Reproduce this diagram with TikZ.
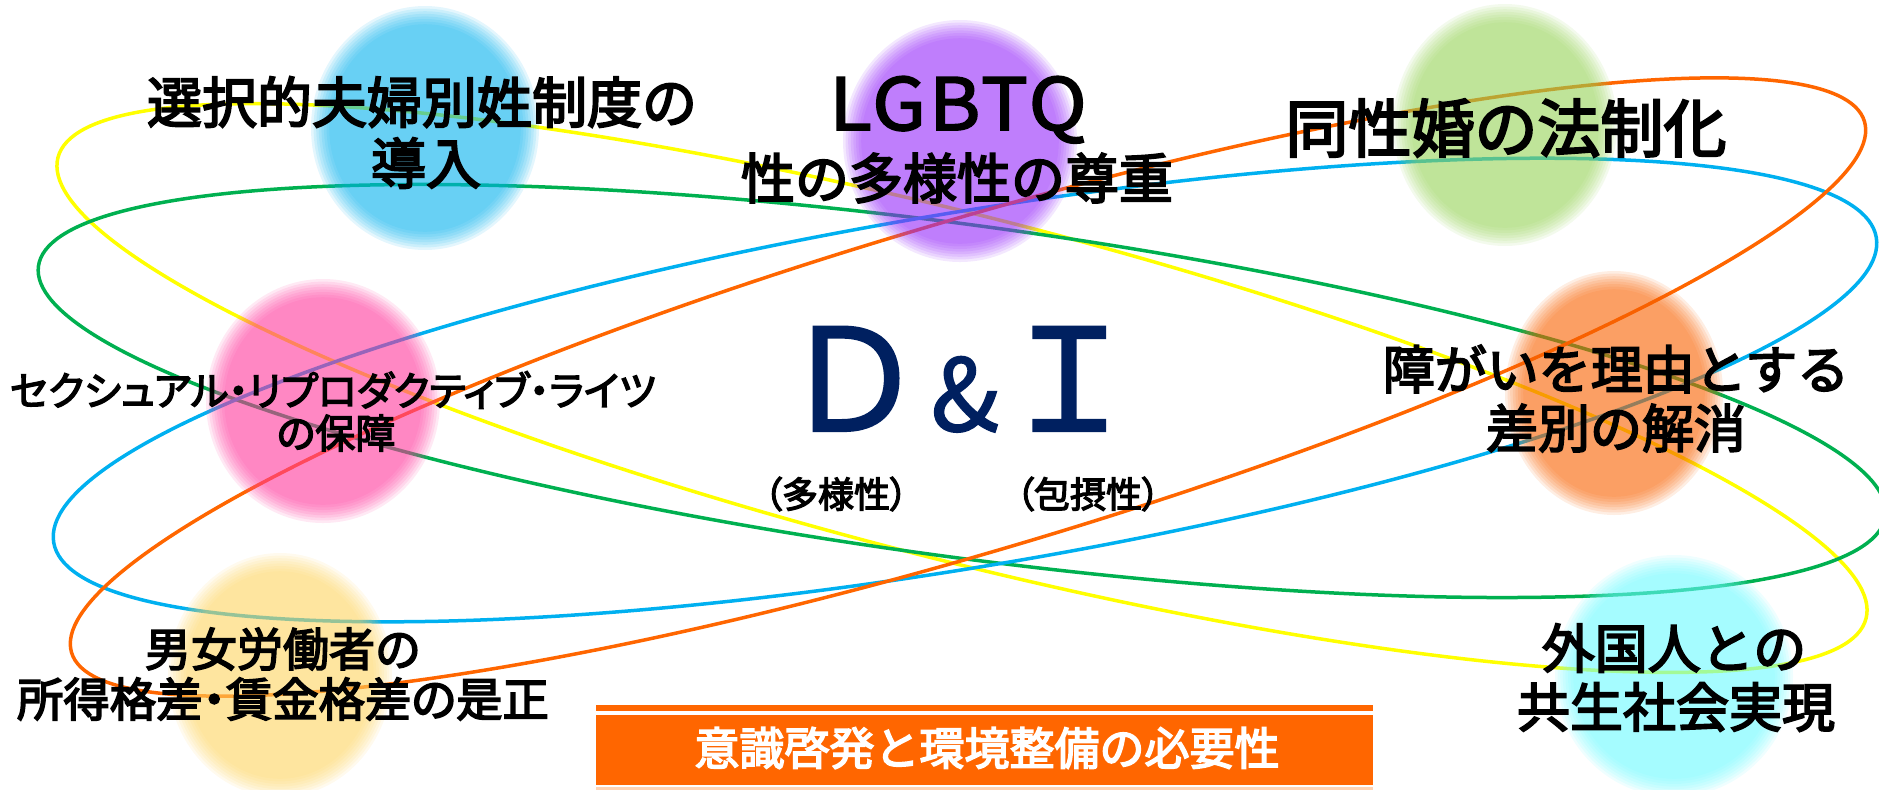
\documentclass[tikz,border=0pt]{standalone}
\usepackage{fontspec}
\usepackage{graphicx}
\newfontfamily\jp{Noto Sans CJK JP}[FakeBold=3.5]
\newfontfamily\jpp{Noto Sans CJK JP}[RawFeature=+palt, FakeBold=3.5]
\newfontfamily\jpl{Noto Sans CJK JP}[LetterSpace=4, FakeBold=2.5]
\newfontfamily\jpd{Noto Sans CJK JP}[FakeBold=1.5]
\definecolor{lyellow}{HTML}{FFFF00}
\definecolor{lgreen}{HTML}{00B050}
\definecolor{lblue}{HTML}{00B0F0}
\definecolor{lorange}{HTML}{FF6600}
\definecolor{navy}{HTML}{002060}
\definecolor{bBlue}{HTML}{07B1ED}
\definecolor{bPurple}{HTML}{962BFA}
\definecolor{bGreen}{HTML}{96D257}
\definecolor{bPink}{HTML}{FF399D}
\definecolor{bOrange}{HTML}{F86100}
\definecolor{bTan}{HTML}{FDD461}
\definecolor{bCyan}{HTML}{6BFAFF}
\definecolor{boxorange}{HTML}{FF6600}
\definecolor{palestripe}{HTML}{FFD3B4}
\newcommand\fs[1]{\fontsize{#1}{#1}\selectfont}
\newcommand\myblob[5]{%
  \foreach \k in {0,...,7}{%
    \pgfmathsetmacro\rxx{#3+9-2.6*\k}%
    \pgfmathsetmacro\ryy{#4+9-2.6*\k}%
    \fill[#5, fill opacity=0.11] (#1,#2) ellipse [x radius=\rxx, y radius=\ryy];
  }%
}
\tikzset{
  loopline/.style={line width=1.75pt},
  jtxt/.style={inner sep=0pt, text=black},
}
\begin{document}
\begin{tikzpicture}[x=0.5pt,y=-0.5pt]
\useasboundingbox (0,0) rectangle (1879,789);
\clip (0,0) rectangle (1879,789);
% loops
\draw[loopline, lyellow, rotate around={-14.3:(962,388)}] (962,388) ellipse [x radius=933, y radius=172];
\draw[loopline, lgreen, rotate around={-7.7:(962,391)}] (962,391) ellipse [x radius=932, y radius=166];
\draw[loopline, lblue, rotate around={9.5:(965,390)}] (965,390) ellipse [x radius=924, y radius=177];
\draw[loopline, lorange, rotate around={16.5:(968,387)}] (968,387) ellipse [x radius=935, y radius=165];
% blobs
\myblob{425}{128}{105}{113}{bBlue}
\myblob{960}{141}{108}{112}{bPurple}
\myblob{1505}{125}{103}{112}{bGreen}
\myblob{323}{401}{108}{113}{bPink}
\myblob{1614}{393}{100}{113}{bOrange}
\myblob{280}{675}{103}{113}{bTan}
\myblob{1674}{676}{110}{112}{bCyan}
% orange box
\fill[boxorange] (596,705) rectangle (1373,711);
\fill[boxorange] (596,715) rectangle (1373,785);
\fill[palestripe] (596,787) rectangle (1373,790);
\node[jtxt, text=white, font=\jp\fs{22.5pt}] (box) at (987,748) {意識啓発と環境整備の必要性};
% texts
\node[jtxt, font=\jp\fs{27.5pt}] (t1a) at (422,102) {選択的夫婦別姓制度の};
\node[jtxt, font=\jp\fs{27.5pt}] (t1b) at (426,163) {導入};
\node[jtxt, anchor=base, font=\jpl\fs{36pt}] (t2a) at (958,130) {\scalebox{1.08}[1]{LGBTQ}};
\node[jtxt, font=\jp\fs{27pt}] (t2b) at (957,178) {性の多様性の尊重};
\node[jtxt, font=\jp\fs{31.5pt}] (t3) at (1506,128) {同性婚の法制化};
\node[jtxt, font=\jpp\fs{20pt}] (t4a) at (333,390) {セクシュアル・リプロダクティブ・ライツ};
\node[jtxt, font=\jpp\fs{20pt}] (t4b) at (336,433) {の保障};
\node[jtxt, font=\jp\fs{26pt}] (t5a) at (1616,369) {障がいを理由とする};
\node[jtxt, font=\jp\fs{26pt}] (t5b) at (1616,428) {差別の解消};
\node[jtxt, font=\jp\fs{23pt}] (t6a) at (283,649) {男女労働者の};
\node[jtxt, font=\jpp\fs{23.2pt}] (t6b) at (283,699) {所得格差・賃金格差の是正};
\node[jtxt, font=\jp\fs{26.5pt}] (t7a) at (1674,648) {外国人との};
\node[jtxt, font=\jp\fs{26.5pt}] (t7b) at (1676,707) {共生社会実現};
% D & I
\node[jtxt, anchor=base, text=navy, font=\jpd\fs{71pt}] (dd) at (853,431) {Ｄ};
\node[jtxt, anchor=base, text=navy, font=\jpd\fs{50pt}] (amp) at (965,431) {\&};
\node[jtxt, anchor=base, text=navy, font=\jpd\fs{71pt}] (ii) at (1069,431) {Ｉ};
\node[jtxt, font=\jpp\fs{18pt}] (p1) at (836,494) {（多様性）};
\node[jtxt, font=\jpp\fs{18pt}] (p2) at (1088,494) {（包摂性）};
\end{tikzpicture}
\end{document}
